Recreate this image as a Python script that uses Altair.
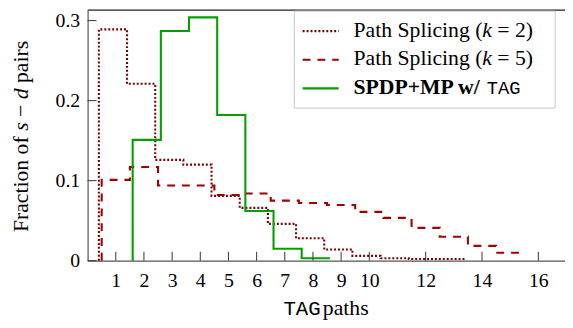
import altair as alt
import pandas as pd

# ---------------- data ----------------
HOPS_K2 = list(range(1, 14))
FRAC_K2 = [0.289, 0.221, 0.126, 0.120, 0.081, 0.066, 0.046, 0.028, 0.014,
           0.006, 0.003, 0.002, 0.002]
HOPS_K5 = list(range(1, 16))
FRAC_K5 = [0.101, 0.117, 0.094, 0.094, 0.082, 0.084, 0.075, 0.072, 0.0695,
           0.061, 0.0535, 0.041, 0.030, 0.0185, 0.010]
HOPS_TAG = list(range(2, 9))
FRAC_TAG = [0.151, 0.287, 0.304, 0.182, 0.062, 0.015, 0.003]

SERIES = ["Path Splicing (k = 2)", "Path Splicing (k = 5)", "SPDP+MP w/ TAG"]
X_TICKS = [1, 2, 3, 4, 5, 6, 7, 8, 9, 10, 12, 14, 16]
Y_TICKS = [0, 0.1, 0.2, 0.3]

# ---------------- styling / layout ----------------
OFFSETS = [-0.1, 0.0, 0.1]          # small horizontal shift per series
COLORS = ["#7a0000", "#a00000", "#00a000"]
DASHES = [[2, 2], [8, 7], [1, 0]]
W, H = 484, 254
PXU = 28.56                          # pixels per hop
XMAX = W / PXU
YMAX = H / 811.3
SERIF = "Liberation Serif"
MONO = "Liberation Mono"
FS = 22
SP = 250 * FS / 1000.0               # width of a space


def steps(name, hops, fracs, off):
    rows = [(name, hops[0] - 0.5 + off, 0.0)]
    for h, f in zip(hops, fracs):
        rows.append((name, h - 0.5 + off, f))
        rows.append((name, h + 0.5 + off, f))
    return rows


rows = []
for name, hops, fr, off in zip(SERIES, [HOPS_K2, HOPS_K5, HOPS_TAG],
                               [FRAC_K2, FRAC_K5, FRAC_TAG], OFFSETS):
    rows += steps(name, hops, fr, off)
df = pd.DataFrame(rows, columns=["series", "x", "y"])
df["i"] = range(len(df))

XS = alt.Scale(domain=[0, XMAX], nice=False, zero=False)
YS = alt.Scale(domain=[0, YMAX], nice=False, zero=False)
XAXIS = alt.Axis(values=X_TICKS, title=None, grid=False, ticks=False,
                 labelFont=SERIF, labelFontSize=20, labelColor="black",
                 labelBaseline="alphabetic", labelPadding=26, labelFlush=False,
                 labelOverlap=False, domainColor="#555", domainWidth=1.2)
YAXIS = alt.Axis(values=Y_TICKS, title=None, grid=False, ticks=False, format="~g",
                 labelFont=SERIF, labelFontSize=20, labelColor="black",
                 labelBaseline="middle", labelPadding=8, labelFlush=False,
                 labelOverlap=False, domainColor="#555", domainWidth=1.2)

lines = alt.Chart(df).mark_line(strokeWidth=2.1, strokeCap="butt").encode(
    x=alt.X("x:Q", scale=XS, axis=XAXIS),
    y=alt.Y("y:Q", scale=YS, axis=YAXIS),
    color=alt.Color("series:N", scale=alt.Scale(domain=SERIES, range=COLORS), legend=None),
    strokeDash=alt.StrokeDash("series:N", scale=alt.Scale(domain=SERIES, range=DASHES), legend=None),
    order=alt.Order("i:Q"),
)

xt = alt.Chart(pd.DataFrame({"x": X_TICKS})).mark_rule(color="#333", strokeWidth=1).encode(
    x=alt.X("x:Q", scale=XS, axis=XAXIS), y=alt.value(H), y2=alt.value(H - 9))
yt = alt.Chart(pd.DataFrame({"y": Y_TICKS})).mark_rule(color="#333", strokeWidth=1).encode(
    y=alt.Y("y:Q", scale=YS, axis=YAXIS), x=alt.value(0), x2=alt.value(9))

one = pd.DataFrame({"a": [0]})
top = alt.Chart(one).mark_rule(color="#222", strokeWidth=1.2).encode(
    x=alt.value(0), x2=alt.value(W), y=alt.value(0))


def txt(t, x, y, font=SERIF, size=FS, style="normal", weight="normal", angle=0):
    return alt.Chart(one).mark_text(font=font, fontSize=size, fontStyle=style,
                                    fontWeight=weight, angle=angle, align="left",
                                    baseline="alphabetic", color="black").encode(
        x=alt.value(x), y=alt.value(y), text=alt.value(t))


# legend
box = alt.Chart(one).mark_rect(fill="white", stroke="#c8c8c8", strokeWidth=1).encode(
    x=alt.value(209.6), x2=alt.value(474), y=alt.value(1), y2=alt.value(99.3))
leg = [box]
for k, yy in enumerate([21.3, 50.3, 79.3]):
    leg.append(alt.Chart(one).mark_rule(color=COLORS[k], strokeWidth=2.1,
                                        strokeDash=DASHES[k], strokeCap="butt").encode(
        x=alt.value(218), x2=alt.value(254.6), y=alt.value(yy)))
TX = 269.6
for k, base in zip(["2", "5"], [27, 56]):
    leg.append(txt("Path Splicing (", TX, base))
    leg.append(txt("k", TX + 130.4, base, style="italic"))
    leg.append(txt("= " + k + ")", TX + 140.2 + SP, base))
leg.append(txt("SPDP+MP w/", TX, 85, weight="bold"))
leg.append(txt("TAG", 404.6, 85, font=MONO, size=19))

# axis titles
titles = [
    txt("TAG", 198.5, 308.7, font=MONO, size=21),
    txt("paths", 238.5, 308.7),
]
ys0, bx = 225, -60.4
# (text, style, advance incl. following space, in 1/1000 em)
segs = [("Fraction of", "normal", 4416 + 250), ("s", "italic", 389 + 250),
        ("\u2212", "normal", 564 + 250), ("d", "italic", 500 + 250),
        ("pairs", "normal", 1944)]
pos = ys0
for t, st, w in segs:
    titles.append(txt(t, bx, pos, style=st, angle=270))
    pos -= w * FS / 1000.0

chart = alt.layer(lines, xt, yt, top, *leg, *titles).properties(
    width=W, height=H,
    autosize=alt.AutoSizeParams(type="none"),
    padding={"left": 80.7, "top": 0, "right": 0, "bottom": 60},
).configure_view(strokeWidth=0)

chart.save("out.html", embed_options={"renderer": "svg", "actions": False})
